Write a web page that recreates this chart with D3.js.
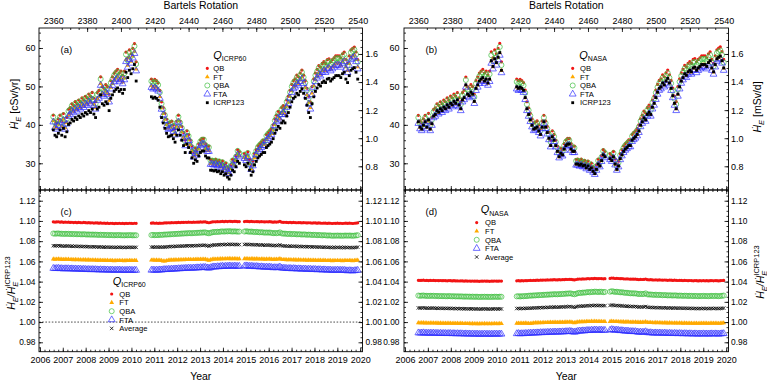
<!DOCTYPE html>
<html><head><meta charset="utf-8">
<script src="https://cdn.jsdelivr.net/npm/d3@7/dist/d3.min.js"></script>
<style>
html,body{margin:0;padding:0;background:#fff;}
svg{display:block;}
text{font-family:"Liberation Sans","DejaVu Sans",Arial,sans-serif;fill:#000;}
</style></head><body>
<svg id="chart" width="767" height="381"></svg>
<script>
// ---------------- DATA ----------------
// Bartels rotations with data (three contiguous segments)
const brSegments = [[2360, 2409], [2418, 2470], [2473, 2540]];
const bartels = brSegments.flatMap(([a, b]) => d3.range(a, b + 1));

// ICRP123 reference dose rate (cSv/yr) per Bartels rotation, Q_ICRP60
const icrp123_ICRP60 = [
 38.7,37.3,36.9,37.8,38.7,37.3,39.1,36.9,38.2,40.1,
 40.5,41.4,41.0,41.9,41.4,42.3,41.9,42.8,42.3,43.2,
 42.8,43.7,43.2,44.1,42.8,41.9,44.1,44.6,47.8,45.5,
 45.1,46.0,45.5,43.7,46.9,47.8,48.7,49.2,49.6,48.7,
 49.2,48.2,49.2,53.7,52.3,54.2,53.3,54.6,55.7,51.4,
 47.3,46.9,47.2,46.9,46.4,44.6,41.9,40.5,39.1,37.8,
 36.9,37.1,37.3,36.4,35.5,37.3,38.7,37.3,36.0,34.6,
 32.8,35.0,34.1,32.8,31.4,30.0,30.9,30.5,31.9,32.8,
 33.2,33.2,31.9,31.4,31.4,28.2,28.2,28.0,28.2,27.8,
 28.0,27.3,27.8,26.9,27.3,26.4,25.9,26.9,28.2,27.8,
 29.1,30.5,30.0,
 29.6,29.1,30.0,28.2,26.9,27.8,29.6,30.5,31.4,31.9,
 32.3,32.8,32.8,34.1,34.6,35.0,35.5,36.4,37.8,38.7,
 39.6,39.1,40.5,41.0,40.5,42.3,43.2,44.6,46.0,46.9,
 47.3,48.2,47.8,48.7,49.4,48.2,46.9,45.1,43.2,41.9,
 45.5,47.3,48.7,49.6,50.5,50.1,51.0,51.4,51.0,51.9,
 52.1,51.4,51.9,52.3,52.8,52.8,52.8,52.3,53.3,53.7,
 51.9,51.0,52.8,54.2,54.6,54.9,53.7,51.9
];
// ICRP123 reference dose rate (cSv/yr), Q_NASA
const icrp123_NASA = [
 40.8,39.4,38.9,39.9,40.8,39.4,41.3,38.9,40.3,42.3,
 42.7,43.7,43.3,44.2,43.7,44.6,44.2,45.2,44.6,45.6,
 45.2,46.1,45.6,46.5,45.2,44.2,46.5,47.1,50.4,48.0,
 47.6,48.5,48.0,46.1,49.5,50.4,51.4,51.9,52.3,51.4,
 51.9,50.9,51.9,56.7,55.2,57.2,56.2,57.6,58.8,54.2,
 49.9,49.5,49.8,49.5,49.0,47.1,44.2,42.7,41.3,39.9,
 38.9,39.1,39.4,38.4,37.5,39.4,40.8,39.4,38.0,36.5,
 34.6,36.9,36.0,34.6,33.1,31.7,32.6,32.2,33.7,34.6,
 35.0,35.0,33.7,33.1,33.1,29.8,29.8,29.5,29.8,29.3,
 29.5,28.8,29.3,28.4,28.8,27.9,27.3,28.4,29.8,29.3,
 30.7,32.2,31.7,
 31.2,30.7,31.7,29.8,28.4,29.3,31.2,32.2,33.1,33.7,
 34.1,34.6,34.6,36.0,36.5,36.9,37.5,38.4,39.9,40.8,
 41.8,41.3,42.7,43.3,42.7,44.6,45.6,47.1,48.5,49.5,
 49.9,50.9,50.4,51.4,52.1,50.9,49.5,47.6,45.6,44.2,
 48.0,49.9,51.4,52.3,53.3,52.9,53.8,54.2,53.8,54.8,
 55.0,54.2,54.8,55.2,55.7,55.7,55.7,55.2,56.2,56.7,
 54.8,53.8,55.7,57.2,57.6,57.9,56.7,54.8
];

// Ratio model / ICRP123, Q_ICRP60
const rQB_ICRP60 = [
 1.0991,1.0989,1.0990,1.0992,1.0988,1.0990,1.0986,1.0989,1.0987,1.0988,
 1.0985,1.0987,1.0984,1.0986,1.0983,1.0985,1.0984,1.0982,1.0985,1.0983,
 1.0981,1.0983,1.0980,1.0982,1.0979,1.0981,1.0980,1.0978,1.0980,1.0977,
 1.0979,1.0976,1.0978,1.0975,1.0977,1.0976,1.0974,1.0976,1.0975,1.0977,
 1.0975,1.0976,1.0974,1.0976,1.0975,1.0977,1.0976,1.0975,1.0977,1.0976,
 1.0978,1.0980,1.0977,1.0979,1.0976,1.0978,1.0977,1.0979,1.0981,1.0980,
 1.0982,1.0981,1.0983,1.0982,1.0984,1.0983,1.0985,1.0984,1.0986,1.0985,
 1.0987,1.0986,1.0988,1.0987,1.0986,1.0988,1.0987,1.0989,1.0988,1.0990,
 1.0989,1.0991,1.0990,1.0985,1.0982,1.0986,1.0990,1.0992,1.0991,1.0993,
 1.0992,1.0994,1.0995,1.0993,1.0996,1.0994,1.0997,1.0995,1.0994,1.0996,
 1.0995,1.0993,1.0994,
 1.0994,1.0996,1.0995,1.0993,1.0995,1.0994,1.0992,1.0994,1.0993,1.0991,
 1.0993,1.0992,1.0990,1.0992,1.0991,1.0993,1.0990,1.0988,1.0990,1.0989,
 1.0991,1.0995,1.0988,1.0986,1.0987,1.0985,1.0984,1.0986,1.0983,1.0985,
 1.0984,1.0982,1.0984,1.0983,1.0981,1.0983,1.0982,1.0980,1.0982,1.0981,
 1.0979,1.0981,1.0980,1.0978,1.0980,1.0979,1.0977,1.0979,1.0978,1.0976,
 1.0978,1.0977,1.0975,1.0977,1.0976,1.0978,1.0976,1.0977,1.0975,1.0977,
 1.0978,1.0976,1.0978,1.0977,1.0975,1.0977,1.0979,1.0981
];
const rFT_ICRP60 = [
 1.0623,1.0621,1.0622,1.0624,1.0620,1.0621,1.0618,1.0620,1.0619,1.0620,
 1.0617,1.0619,1.0616,1.0618,1.0616,1.0617,1.0615,1.0614,1.0616,1.0615,
 1.0613,1.0615,1.0612,1.0614,1.0612,1.0613,1.0611,1.0610,1.0612,1.0609,
 1.0611,1.0608,1.0610,1.0607,1.0609,1.0608,1.0606,1.0608,1.0607,1.0609,
 1.0607,1.0608,1.0606,1.0608,1.0607,1.0609,1.0608,1.0607,1.0609,1.0608,
 1.0612,1.0614,1.0611,1.0613,1.0610,1.0612,1.0608,1.0604,1.0603,1.0607,
 1.0611,1.0613,1.0614,1.0613,1.0615,1.0614,1.0616,1.0615,1.0617,1.0616,
 1.0618,1.0617,1.0619,1.0618,1.0617,1.0619,1.0618,1.0620,1.0619,1.0621,
 1.0620,1.0622,1.0621,1.0615,1.0610,1.0616,1.0621,1.0623,1.0622,1.0624,
 1.0623,1.0625,1.0626,1.0624,1.0627,1.0625,1.0628,1.0626,1.0625,1.0627,
 1.0626,1.0624,1.0625,
 1.0625,1.0627,1.0626,1.0624,1.0626,1.0625,1.0623,1.0625,1.0624,1.0622,
 1.0624,1.0623,1.0621,1.0623,1.0622,1.0624,1.0621,1.0619,1.0621,1.0620,
 1.0622,1.0627,1.0619,1.0617,1.0618,1.0616,1.0615,1.0617,1.0614,1.0616,
 1.0615,1.0613,1.0615,1.0614,1.0612,1.0614,1.0613,1.0611,1.0613,1.0612,
 1.0610,1.0612,1.0611,1.0609,1.0611,1.0610,1.0608,1.0610,1.0609,1.0607,
 1.0609,1.0608,1.0606,1.0608,1.0607,1.0609,1.0607,1.0608,1.0606,1.0608,
 1.0609,1.0607,1.0609,1.0608,1.0606,1.0608,1.0610,1.0612
];
const rQBA_ICRP60 = [
 1.0876,1.0874,1.0875,1.0877,1.0873,1.0874,1.0871,1.0873,1.0872,1.0873,
 1.0870,1.0872,1.0869,1.0871,1.0868,1.0870,1.0868,1.0867,1.0869,1.0867,
 1.0865,1.0867,1.0864,1.0866,1.0864,1.0865,1.0863,1.0862,1.0864,1.0861,
 1.0863,1.0860,1.0862,1.0859,1.0861,1.0860,1.0858,1.0860,1.0859,1.0861,
 1.0858,1.0859,1.0857,1.0859,1.0858,1.0860,1.0859,1.0857,1.0859,1.0858,
 1.0860,1.0862,1.0859,1.0861,1.0860,1.0863,1.0862,1.0864,1.0866,1.0865,
 1.0868,1.0867,1.0870,1.0869,1.0872,1.0871,1.0874,1.0873,1.0876,1.0875,
 1.0878,1.0877,1.0880,1.0879,1.0878,1.0881,1.0880,1.0883,1.0882,1.0885,
 1.0884,1.0887,1.0886,1.0881,1.0878,1.0883,1.0888,1.0891,1.0890,1.0893,
 1.0892,1.0895,1.0897,1.0894,1.0898,1.0896,1.0899,1.0897,1.0895,1.0897,
 1.0896,1.0894,1.0895,
 1.0895,1.0898,1.0896,1.0893,1.0895,1.0893,1.0890,1.0892,1.0890,1.0887,
 1.0889,1.0887,1.0884,1.0886,1.0884,1.0886,1.0882,1.0879,1.0881,1.0879,
 1.0881,1.0887,1.0877,1.0874,1.0875,1.0872,1.0871,1.0873,1.0869,1.0871,
 1.0870,1.0867,1.0869,1.0868,1.0865,1.0867,1.0866,1.0863,1.0865,1.0864,
 1.0861,1.0863,1.0862,1.0859,1.0861,1.0860,1.0857,1.0859,1.0858,1.0855,
 1.0857,1.0856,1.0853,1.0855,1.0854,1.0856,1.0854,1.0855,1.0853,1.0855,
 1.0856,1.0854,1.0856,1.0855,1.0853,1.0855,1.0857,1.0859
];
const rFTA_ICRP60 = [
 1.0531,1.0529,1.0530,1.0532,1.0528,1.0529,1.0526,1.0528,1.0527,1.0528,
 1.0525,1.0527,1.0524,1.0526,1.0523,1.0525,1.0523,1.0521,1.0523,1.0521,
 1.0519,1.0521,1.0518,1.0520,1.0518,1.0519,1.0517,1.0516,1.0518,1.0515,
 1.0517,1.0514,1.0516,1.0513,1.0515,1.0514,1.0512,1.0514,1.0513,1.0515,
 1.0512,1.0513,1.0511,1.0513,1.0512,1.0514,1.0513,1.0511,1.0513,1.0512,
 1.0513,1.0515,1.0512,1.0514,1.0513,1.0516,1.0515,1.0518,1.0520,1.0519,
 1.0522,1.0521,1.0524,1.0523,1.0526,1.0525,1.0528,1.0527,1.0530,1.0529,
 1.0532,1.0531,1.0534,1.0533,1.0532,1.0535,1.0534,1.0537,1.0536,1.0539,
 1.0538,1.0541,1.0540,1.0536,1.0533,1.0538,1.0543,1.0546,1.0545,1.0548,
 1.0547,1.0550,1.0552,1.0549,1.0553,1.0551,1.0555,1.0553,1.0551,1.0554,
 1.0553,1.0551,1.0552,
 1.0553,1.0556,1.0554,1.0551,1.0553,1.0551,1.0548,1.0550,1.0548,1.0545,
 1.0547,1.0545,1.0542,1.0544,1.0542,1.0544,1.0540,1.0537,1.0539,1.0537,
 1.0539,1.0545,1.0535,1.0532,1.0533,1.0530,1.0529,1.0531,1.0527,1.0529,
 1.0528,1.0525,1.0527,1.0526,1.0523,1.0525,1.0524,1.0521,1.0523,1.0522,
 1.0519,1.0521,1.0520,1.0517,1.0519,1.0518,1.0515,1.0517,1.0516,1.0513,
 1.0515,1.0514,1.0511,1.0513,1.0512,1.0514,1.0512,1.0513,1.0511,1.0513,
 1.0509,1.0507,1.0509,1.0508,1.0506,1.0508,1.0510,1.0512
];

// Ratio model / ICRP123, Q_NASA
const rQB_NASA = [
 1.0413,1.0412,1.0413,1.0414,1.0411,1.0412,1.0410,1.0412,1.0411,1.0412,
 1.0410,1.0411,1.0409,1.0411,1.0409,1.0410,1.0409,1.0408,1.0410,1.0409,
 1.0407,1.0409,1.0407,1.0408,1.0406,1.0408,1.0407,1.0405,1.0407,1.0405,
 1.0406,1.0404,1.0406,1.0404,1.0405,1.0404,1.0403,1.0405,1.0404,1.0406,
 1.0404,1.0405,1.0403,1.0405,1.0404,1.0406,1.0405,1.0404,1.0406,1.0405,
 1.0408,1.0409,1.0407,1.0409,1.0408,1.0410,1.0409,1.0411,1.0412,1.0411,
 1.0413,1.0412,1.0414,1.0413,1.0415,1.0414,1.0416,1.0415,1.0417,1.0416,
 1.0418,1.0417,1.0419,1.0418,1.0417,1.0419,1.0418,1.0420,1.0419,1.0422,
 1.0421,1.0423,1.0422,1.0419,1.0417,1.0421,1.0424,1.0426,1.0425,1.0427,
 1.0426,1.0428,1.0430,1.0428,1.0431,1.0429,1.0432,1.0430,1.0429,1.0431,
 1.0430,1.0428,1.0429,
 1.0432,1.0436,1.0434,1.0431,1.0433,1.0431,1.0429,1.0430,1.0428,1.0426,
 1.0428,1.0426,1.0424,1.0425,1.0424,1.0425,1.0422,1.0420,1.0422,1.0421,
 1.0422,1.0426,1.0419,1.0418,1.0419,1.0417,1.0416,1.0418,1.0415,1.0417,
 1.0416,1.0414,1.0416,1.0415,1.0413,1.0415,1.0414,1.0412,1.0414,1.0413,
 1.0411,1.0413,1.0412,1.0410,1.0412,1.0411,1.0409,1.0411,1.0410,1.0408,
 1.0410,1.0409,1.0407,1.0409,1.0408,1.0410,1.0408,1.0409,1.0407,1.0409,
 1.0410,1.0408,1.0410,1.0409,1.0407,1.0409,1.0411,1.0412
];
const rFT_NASA = [
 0.9992,0.9991,0.9992,0.9993,0.9990,0.9991,0.9989,0.9991,0.9990,0.9991,
 0.9989,0.9990,0.9988,0.9990,0.9988,0.9989,0.9988,0.9987,0.9989,0.9988,
 0.9986,0.9988,0.9986,0.9987,0.9985,0.9987,0.9986,0.9984,0.9986,0.9984,
 0.9985,0.9983,0.9985,0.9983,0.9984,0.9983,0.9982,0.9984,0.9983,0.9985,
 0.9983,0.9984,0.9982,0.9984,0.9983,0.9985,0.9984,0.9983,0.9985,0.9984,
 0.9988,0.9989,0.9987,0.9989,0.9988,0.9990,0.9988,0.9986,0.9985,0.9988,
 0.9991,0.9992,0.9993,0.9992,0.9994,0.9993,0.9995,0.9994,0.9996,0.9995,
 0.9997,0.9996,0.9998,0.9997,0.9996,0.9998,0.9997,0.9999,0.9998,1.0000,
 0.9999,1.0001,1.0000,0.9996,0.9993,0.9997,1.0001,1.0003,1.0002,1.0004,
 1.0003,1.0005,1.0006,1.0004,1.0007,1.0005,1.0007,1.0006,1.0005,1.0006,
 1.0005,1.0004,1.0005,
 1.0005,1.0008,1.0006,1.0004,1.0005,1.0004,1.0002,1.0003,1.0002,1.0000,
 1.0002,1.0001,0.9999,1.0000,0.9999,1.0001,0.9998,0.9997,0.9998,0.9997,
 0.9999,1.0003,0.9996,0.9995,0.9996,0.9994,0.9993,0.9995,0.9992,0.9994,
 0.9993,0.9991,0.9993,0.9992,0.9990,0.9992,0.9991,0.9989,0.9991,0.9990,
 0.9989,0.9991,0.9990,0.9988,0.9990,0.9989,0.9987,0.9989,0.9988,0.9986,
 0.9988,0.9987,0.9986,0.9988,0.9987,0.9989,0.9987,0.9988,0.9986,0.9988,
 0.9989,0.9987,0.9989,0.9988,0.9986,0.9988,0.9990,0.9991
];
const rQBA_NASA = [
 1.0262,1.0260,1.0261,1.0263,1.0259,1.0260,1.0258,1.0260,1.0259,1.0260,
 1.0257,1.0259,1.0256,1.0258,1.0256,1.0257,1.0256,1.0255,1.0257,1.0256,
 1.0254,1.0256,1.0253,1.0255,1.0253,1.0254,1.0253,1.0251,1.0253,1.0251,
 1.0252,1.0250,1.0252,1.0249,1.0251,1.0250,1.0248,1.0250,1.0249,1.0251,
 1.0249,1.0250,1.0248,1.0250,1.0249,1.0251,1.0250,1.0249,1.0251,1.0250,
 1.0254,1.0256,1.0253,1.0256,1.0255,1.0258,1.0257,1.0260,1.0262,1.0261,
 1.0264,1.0263,1.0266,1.0265,1.0268,1.0267,1.0270,1.0269,1.0272,1.0271,
 1.0274,1.0273,1.0276,1.0275,1.0274,1.0277,1.0276,1.0279,1.0278,1.0282,
 1.0281,1.0284,1.0283,1.0278,1.0275,1.0280,1.0286,1.0289,1.0288,1.0292,
 1.0291,1.0294,1.0297,1.0294,1.0299,1.0297,1.0301,1.0299,1.0297,1.0300,
 1.0299,1.0296,1.0298,
 1.0300,1.0305,1.0302,1.0298,1.0300,1.0297,1.0294,1.0295,1.0292,1.0289,
 1.0290,1.0287,1.0284,1.0285,1.0283,1.0284,1.0280,1.0277,1.0279,1.0277,
 1.0278,1.0284,1.0274,1.0272,1.0273,1.0270,1.0269,1.0271,1.0267,1.0269,
 1.0268,1.0265,1.0267,1.0266,1.0263,1.0265,1.0264,1.0262,1.0264,1.0263,
 1.0260,1.0262,1.0261,1.0259,1.0261,1.0260,1.0258,1.0260,1.0259,1.0257,
 1.0259,1.0258,1.0256,1.0258,1.0257,1.0259,1.0257,1.0258,1.0256,1.0258,
 1.0259,1.0257,1.0259,1.0258,1.0256,1.0258,1.0260,1.0262
];
const rFTA_NASA = [
 0.9893,0.9891,0.9892,0.9894,0.9890,0.9891,0.9889,0.9891,0.9890,0.9891,
 0.9888,0.9890,0.9887,0.9889,0.9887,0.9888,0.9887,0.9886,0.9888,0.9887,
 0.9885,0.9887,0.9884,0.9886,0.9884,0.9885,0.9884,0.9882,0.9884,0.9882,
 0.9883,0.9881,0.9883,0.9880,0.9882,0.9881,0.9879,0.9881,0.9880,0.9882,
 0.9880,0.9881,0.9879,0.9881,0.9880,0.9882,0.9881,0.9880,0.9882,0.9881,
 0.9885,0.9887,0.9884,0.9886,0.9885,0.9888,0.9887,0.9889,0.9891,0.9890,
 0.9893,0.9892,0.9894,0.9893,0.9896,0.9895,0.9897,0.9896,0.9899,0.9898,
 0.9900,0.9899,0.9902,0.9901,0.9900,0.9903,0.9902,0.9904,0.9903,0.9906,
 0.9905,0.9908,0.9907,0.9903,0.9900,0.9904,0.9909,0.9912,0.9911,0.9914,
 0.9913,0.9916,0.9918,0.9916,0.9920,0.9918,0.9922,0.9920,0.9918,0.9921,
 0.9920,0.9918,0.9919,
 0.9920,0.9926,0.9923,0.9919,0.9921,0.9918,0.9915,0.9916,0.9913,0.9910,
 0.9912,0.9909,0.9906,0.9907,0.9905,0.9906,0.9902,0.9899,0.9901,0.9899,
 0.9900,0.9905,0.9896,0.9894,0.9895,0.9892,0.9891,0.9893,0.9890,0.9892,
 0.9891,0.9889,0.9891,0.9890,0.9887,0.9889,0.9888,0.9886,0.9888,0.9887,
 0.9885,0.9887,0.9886,0.9884,0.9886,0.9885,0.9883,0.9885,0.9884,0.9882,
 0.9884,0.9883,0.9881,0.9883,0.9882,0.9884,0.9882,0.9883,0.9881,0.9883,
 0.9884,0.9882,0.9884,0.9883,0.9881,0.9883,0.9885,0.9886
];

// Tick labels
const yearTicks = d3.range(2006, 2021);
const bartelsTicks = [2360, 2380, 2400, 2420, 2440, 2460, 2480, 2500, 2520, 2540];
const doseTicks = [30, 40, 50, 60];
const doseRightTicks = [0.8, 1.0, 1.2, 1.4, 1.6];
const ratioTicks = [0.98, 1.00, 1.02, 1.04, 1.06, 1.08, 1.10, 1.12];
const modelNames = ["QB", "FT", "QBA", "FTA"];

// ---------------- LAYOUT ----------------
const svg = d3.select('#chart');
const topY = [28, 190], botY = [190, 351.7];
const yearDomain = [2005.96, 2020.1];
const doseDomain = [23.05, 65.2];
const toMSvPerDay = 10 / 365.25;
const ratioDomain = [0.9707, 1.1306];
const brToYear = br => 2006.585 + (br - 2360) * 27 / 365.25;

const timesSym = d3.symbolTimes || { draw(ctx, size) { const r = Math.sqrt(size) / 2; ctx.moveTo(-r, -r); ctx.lineTo(r, r); ctx.moveTo(r, -r); ctx.lineTo(-r, r); } };
const styles = {
  QB: { type: d3.symbolCircle, size: 8, fill: '#f21414', stroke: 'none', sw: 0 },
  FT: { type: d3.symbolTriangle, size: 10, fill: '#ffaa00', stroke: 'none', sw: 0 },
  QBA: { type: d3.symbolCircle, size: 20, fill: 'none', stroke: '#3fbf3f', sw: 0.7 },
  FTA: { type: d3.symbolTriangle, size: 20, fill: 'none', stroke: '#2f2fff', sw: 0.7 },
  ICRP123: { type: d3.symbolSquare, size: 8, fill: '#000', stroke: 'none', sw: 0 },
  Average: { type: timesSym, size: 9, fill: 'none', stroke: '#000', sw: 0.8 }
};
const symPath = name => d3.symbol().type(styles[name].type).size(styles[name].size)();

const panels = [
  { x0: 39, x1: 362.5, q: 'ICRP60', ref: icrp123_ICRP60,
    ratios: { QB: rQB_ICRP60, FT: rFT_ICRP60, QBA: rQBA_ICRP60, FTA: rFTA_ICRP60 },
    tags: ['(a)', '(c)'], tagX: 60.5, leftPad: 3.5, rightPad: 3, dashed: true,
    legTop: { tx: 213.3, ty: 58.5, mx: 207.3, lx: 213.3, ys: [68.3, 76.9, 85.5, 94.1, 102.7] },
    legBot: { tx: 112.7, ty: 284.8, mx: 111.7, lx: 119.3, ys: [294, 302.6, 311.2, 319.8, 328.4] } },
  { x0: 404, x1: 728.5, q: 'NASA', ref: icrp123_NASA,
    ratios: { QB: rQB_NASA, FT: rFT_NASA, QBA: rQBA_NASA, FTA: rFTA_NASA },
    tags: ['(b)', '(d)'], tagX: 425.5, leftPad: 4.5, rightPad: 2.5, dashed: false,
    legTop: { tx: 579.3, ty: 58.5, mx: 572.7, lx: 580, ys: [68.3, 76.9, 85.5, 94.1, 102.7] },
    legBot: { tx: 480.7, ty: 213.3, mx: 476.7, lx: 485, ys: [222.6, 231.2, 239.8, 248.4, 257.0] } }
];

function styleAxis(g, fs) {
  g.select('.domain').remove();
  g.selectAll('line').attr('stroke', '#000').attr('stroke-width', 0.8);
  g.selectAll('text').attr('font-size', fs).attr('fill', '#000').style('font-family', '"Liberation Sans","DejaVu Sans",Arial,sans-serif');
}
function inRange(scale, vals) {
  const [a, b] = scale.range();
  const lo = Math.min(a, b) + 0.5, hi = Math.max(a, b) - 0.5;
  return vals.filter(v => { const p = scale(v); return p >= lo && p <= hi; });
}
function frameSide(g, scale, side, pos, major, minorStep, labelFmt, pad, fs) {
  const inward = { left: d3.axisRight, right: d3.axisLeft, top: d3.axisBottom, bottom: d3.axisTop }[side];
  const outward = { left: d3.axisLeft, right: d3.axisRight, top: d3.axisTop, bottom: d3.axisBottom }[side];
  const tr = (side === 'left' || side === 'right') ? `translate(${pos},0)` : `translate(0,${pos})`;
  const dom = scale.domain();
  const lo = Math.min(dom[0], dom[1]), hi = Math.max(dom[0], dom[1]);
  const minor = inRange(scale, d3.range(Math.ceil(lo / minorStep) * minorStep, hi, minorStep).map(v => +v.toFixed(6)));
  g.append('g').attr('transform', tr).call(inward(scale).tickValues(minor).tickSize(2).tickFormat('')).call(s => styleAxis(s, 9));
  g.append('g').attr('transform', tr).call(inward(scale).tickValues(inRange(scale, major)).tickSize(4).tickFormat('')).call(s => styleAxis(s, 9));
  if (labelFmt) {
    g.append('g').attr('transform', tr).call(outward(scale).tickValues(major).tickSize(0).tickPadding(pad).tickFormat(labelFmt)).call(s => styleAxis(s, fs || 9));
  }
}
function drawSeries(g, pts, name) {
  const st = styles[name];
  g.append('g').selectAll('path').data(pts).join('path')
    .attr('d', symPath(name))
    .attr('transform', d => `translate(${d[0]},${d[1]})`)
    .attr('fill', st.fill).attr('stroke', st.stroke).attr('stroke-width', st.sw);
}
function legend(g, L, q, names) {
  const t = g.append('text').attr('x', L.tx).attr('y', L.ty).attr('font-size', 11);
  t.append('tspan').attr('font-style', 'italic').text('Q');
  t.append('tspan').attr('font-size', 7).attr('dy', 2.6).text(q);
  names.forEach((n, i) => {
    const st = styles[n];
    g.append('path').attr('d', symPath(n)).attr('transform', `translate(${L.mx},${L.ys[i]})`)
      .attr('fill', st.fill).attr('stroke', st.stroke).attr('stroke-width', st.sw);
    g.append('text').attr('x', L.lx).attr('y', L.ys[i] + 2.7).attr('font-size', 7.6).text(n);
  });
}

panels.forEach((P, pi) => {
  const g = svg.append('g');
  const x = d3.scaleLinear().domain(yearDomain).range([P.x0, P.x1]);
  const xBR = d3.scaleLinear().domain([2360, 2540]).range([x(brToYear(2360)), x(brToYear(2540))]);
  const yDose = d3.scaleLinear().domain(doseDomain).range([topY[1], topY[0]]);
  const yDoseR = d3.scaleLinear().domain(doseDomain.map(v => v * toMSvPerDay)).range([topY[1], topY[0]]);
  const yRatio = d3.scaleLinear().domain(ratioDomain).range([botY[1], botY[0]]);

  // --- top panel points
  const top = g.append('g');
  modelNames.forEach(n => {
    const r = P.ratios[n];
    drawSeries(top, bartels.map((br, i) => [xBR(br), yDose(P.ref[i] * r[i])]), n);
  });
  drawSeries(top, bartels.map((br, i) => [xBR(br), yDose(P.ref[i])]), 'ICRP123');

  // --- bottom panel points
  const bot = g.append('g');
  if (P.dashed) {
    bot.append('line').attr('x1', P.x0).attr('x2', P.x1).attr('y1', yRatio(1)).attr('y2', yRatio(1))
      .attr('stroke', '#000').attr('stroke-width', 0.7).attr('stroke-dasharray', '1.6,1.6');
  }
  modelNames.forEach(n => {
    const r = P.ratios[n];
    drawSeries(bot, bartels.map((br, i) => [xBR(br), yRatio(r[i])]), n);
  });
  drawSeries(bot, bartels.map((br, i) => [xBR(br), yRatio(d3.mean(modelNames, n => P.ratios[n][i]))]), 'Average');

  // --- frames
  g.append('rect').attr('x', P.x0).attr('y', topY[0]).attr('width', P.x1 - P.x0).attr('height', topY[1] - topY[0])
    .attr('fill', 'none').attr('stroke', '#000').attr('stroke-width', 0.9);
  g.append('rect').attr('x', P.x0).attr('y', botY[0]).attr('width', P.x1 - P.x0).attr('height', botY[1] - botY[0])
    .attr('fill', 'none').attr('stroke', '#000').attr('stroke-width', 0.9);

  // --- axes: top panel
  frameSide(g, xBR, 'top', topY[0], bartelsTicks, 5, d3.format('d'), 4);
  frameSide(g, x, 'bottom', topY[1], yearTicks, 0.2, null, 0);
  frameSide(g, yDose, 'left', P.x0, doseTicks, 2, d3.format('d'), P.leftPad);
  frameSide(g, yDoseR, 'right', P.x1, doseRightTicks, 0.05, d3.format('.1f'), P.rightPad);
  // --- axes: bottom panel
  frameSide(g, x, 'top', botY[0], yearTicks, 0.2, null, 0);
  frameSide(g, x, 'bottom', botY[1], yearTicks, 0.2, d3.format('d'), 4.5);
  frameSide(g, yRatio, 'left', P.x0, ratioTicks, 0.005, d3.format('.2f'), P.leftPad, 8.4);
  frameSide(g, yRatio, 'right', P.x1, ratioTicks, 0.005, d3.format('.2f'), P.rightPad, 8.4);

  // --- titles
  const cx = (P.x0 + P.x1) / 2;
  g.append('text').attr('x', cx).attr('y', 9).attr('text-anchor', 'middle').attr('font-size', 10.5).text('Bartels Rotation');
  g.append('text').attr('x', cx).attr('y', 380).attr('text-anchor', 'middle').attr('font-size', 10.5).text('Year');
  g.append('text').attr('x', P.tagX).attr('y', 52.5).attr('font-size', 9.5).text(P.tags[0]);
  g.append('text').attr('x', P.tagX).attr('y', 215).attr('font-size', 9.5).text(P.tags[1]);

  legend(g, P.legTop, P.q, ['QB', 'FT', 'QBA', 'FTA', 'ICRP123']);
  legend(g, P.legBot, P.q, ['QB', 'FT', 'QBA', 'FTA', 'Average']);
});

// --- axis titles (dose and ratio)
function doseTitle(x, y, unit) {
  const t = svg.append('text').attr('transform', `translate(${x},${y}) rotate(-90)`).attr('text-anchor', 'middle').attr('font-size', 10.5);
  t.append('tspan').attr('font-style', 'italic').text('Ḣ');
  t.append('tspan').attr('font-style', 'italic').attr('font-size', 7.5).attr('dy', 2.5).text('E');
  t.append('tspan').attr('dy', -2.5).text(' [' + unit + ']');
}
function ratioTitle(x, y) {
  const t = svg.append('text').attr('transform', `translate(${x},${y}) rotate(-90)`).attr('text-anchor', 'middle').attr('font-size', 10.5);
  t.append('tspan').attr('font-style', 'italic').text('Ḣ');
  t.append('tspan').attr('font-style', 'italic').attr('font-size', 7.5).attr('dy', 2.5).text('E');
  t.append('tspan').attr('font-style', 'italic').attr('dy', -2.5).text('/Ḣ');
  t.append('tspan').attr('font-style', 'italic').attr('font-size', 7.5).attr('dy', 2.5).text('E');
  t.append('tspan').attr('font-size', 7.5).attr('dx', -5).attr('dy', -7.5).text('ICRP123');
}
doseTitle(18, 104, 'cSv/yr');
doseTitle(761, 107, 'mSv/d');
ratioTitle(15, 283);
ratioTitle(764, 272);
</script>
</body></html>
